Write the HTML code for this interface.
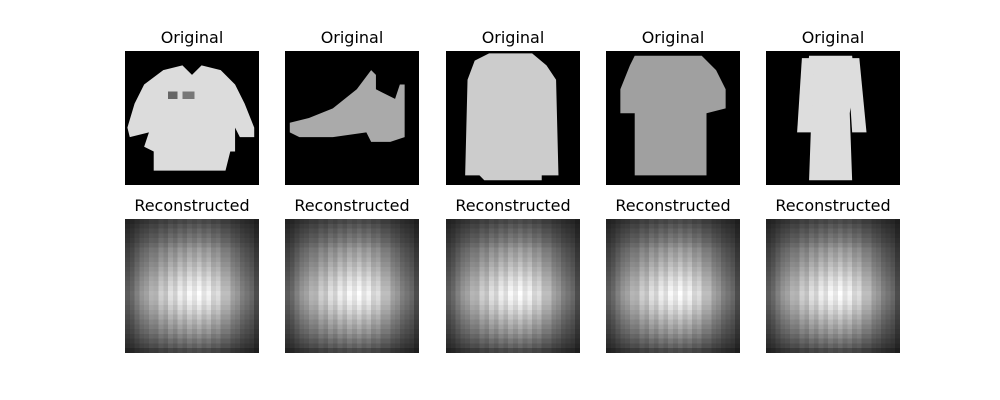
<!DOCTYPE html>
<html><head><meta charset="utf-8">
<style>
html,body{margin:0;padding:0;background:#fff;}
#fig{position:relative;width:1000px;height:400px;overflow:hidden;font-family:"DejaVu Sans","Liberation Sans",sans-serif;}
.t{position:absolute;width:200px;text-align:center;font-size:16px;color:#000;}
svg.im{position:absolute;width:134px;height:134px;}
</style></head>
<body>
<div id="fig"></div>
<script>
const titles = ["Original","Reconstructed"];
const colLefts = [125,285,446,606,766];
const rowProfile = [0.15,0.2,0.25,0.3,0.35,0.42,0.5,0.55,0.6,0.66,0.72,0.78,0.85,0.9,0.95,1,0.97,0.92,0.85,0.78,0.7,0.62,0.55,0.48,0.4,0.32,0.25,0.15];
const colProfile = [0.2,0.25,0.35,0.45,0.5,0.6,0.58,0.74,0.66,0.84,0.74,0.92,0.8,0.97,0.86,1,0.84,0.94,0.76,0.82,0.64,0.64,0.5,0.45,0.35,0.3,0.25,0.15];
const shapes = [
 {fill:"#dcdcdc", polys:["8,4 12,3 14,5 16,3 20,4 23,7 25,11 27,16 27,18 24,18 23,16 23,21 22,21 21,25 6,25 6,21 4,20 5,17 1,18 0.5,16 2,11 4,7"], extra:'<rect x="9" y="8.5" width="2" height="1.5" fill="#666"/><rect x="12" y="8.5" width="2.5" height="1.5" fill="#777"/>'},
 {fill:"#aaaaaa", polys:["1,15 5,14 10,12 15,8 18,4 19,5 19,8 23,10 24,7 25,7 25,18 22,19 18,19 17,17 10,18 3,18 1,17"], extra:''},
 {fill:"#cccccc", polys:["9,0.5 18,0.5 21,3 23,6 23.5,26 20,26 20,27 8,27 7,26 4,26 4.5,6 6,2"], extra:''},
 {fill:"#a0a0a0", polys:["6,1 20,1 23,4 25,8 25,12 21,13 21,26 6,26 6,13 3,13 3,8 5,3"], extra:''},
 {fill:"#dddddd", polys:["9,1 18,1 18.5,6 17.5,13 18,27 9,27 9.5,13 8.5,6","7.5,1.5 10,1.5 9.5,17 6.5,17","17,1.5 19.5,1.5 21,17 18,17"], extra:''}
];
const fig = document.getElementById('fig');
const NS = "http://www.w3.org/2000/svg";
for (let r=0;r<2;r++){
  for (let c=0;c<5;c++){
    const top = r===0?51:219;
    const t = document.createElement('div');
    t.className='t';
    t.style.left=(colLefts[c]+67-100)+'px';
    t.style.top=(top-23)+'px';
    t.textContent=titles[r];
    
    
    fig.appendChild(t);
    const s = document.createElementNS(NS,'svg');
    s.setAttribute('class','im');
    s.setAttribute('viewBox','0 0 28 28');
    s.setAttribute('preserveAspectRatio','none');
    s.setAttribute('shape-rendering','crispEdges');
    s.style.left=colLefts[c]+'px';
    s.style.top=top+'px';
    
    
    let html='';
    if (r===0){
      const sh=shapes[c];
      html+='<rect x="0" y="0" width="28" height="28" fill="#000"/>';
      sh.polys.forEach(p=>{html+='<polygon points="'+p+'" fill="'+sh.fill+'" shape-rendering="geometricPrecision"/>';});
      html+=sh.extra;
    } else {
      for (let i=0;i<28;i++) for (let j=0;j<28;j++){
        const v=Math.round(255*(0.05+0.95*Math.pow(rowProfile[i]*colProfile[j],0.7)));
        html+='<rect x="'+j+'" y="'+i+'" width="1.02" height="1.02" fill="rgb('+v+','+v+','+v+')"/>';
      }
    }
    s.innerHTML=html;
    fig.appendChild(s);
  }
}
</script>
</body></html>
